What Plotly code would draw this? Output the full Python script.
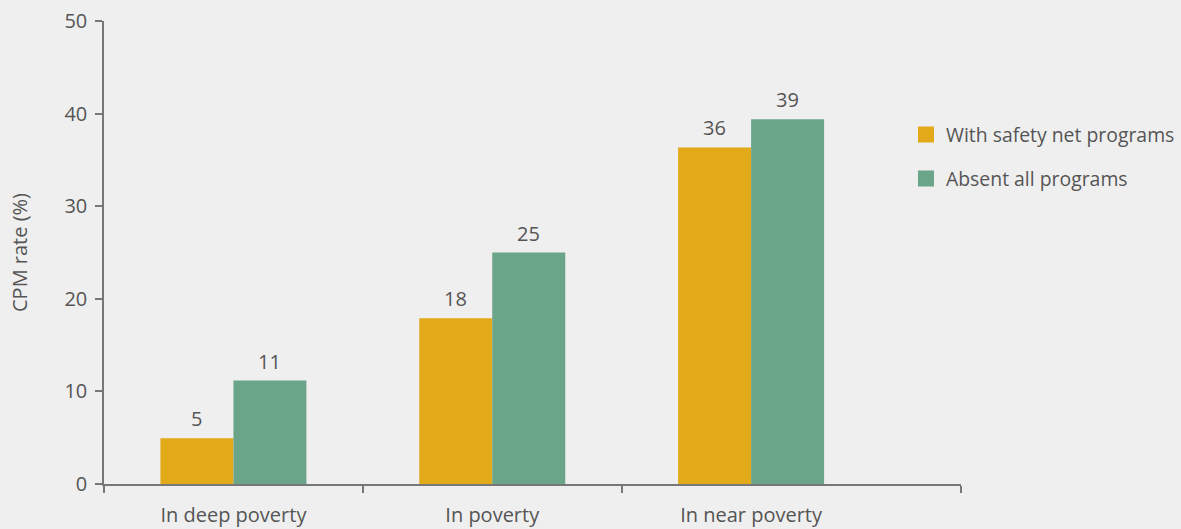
import plotly.graph_objects as go

categories = ["In deep poverty", "In poverty", "In near poverty"]
with_programs = [4.94, 17.9, 36.35]
absent_programs = [11.17, 25.0, 39.4]
with_labels = ["5", "18", "36"]
absent_labels = ["11", "25", "39"]
series_names = ["With safety net programs", "Absent all programs"]
y_ticks = [0, 10, 20, 30, 40, 50]

YELLOW = "#E2AA18"
GREEN = "#6AA589"
BG = "#EFEFEF"
TXT = "#555555"
AX = "#777777"
FONT = "Open Sans"
FS = 20
LFS = 19.4

L, R, T, B = 104, 961, 21, 484
W, H = 1181, 529

xpos = list(range(len(categories)))

fig = go.Figure()
fig.add_bar(x=xpos, y=with_programs, marker=dict(color=YELLOW, line=dict(width=0)),
            showlegend=False, name=series_names[0])
fig.add_bar(x=xpos, y=absent_programs, marker=dict(color=GREEN, line=dict(width=0)),
            showlegend=False, name=series_names[1])

# legend entries
fig.add_scatter(x=[None], y=[None], mode="markers", name=series_names[0],
                marker=dict(symbol="square", size=16, color=YELLOW), legend="legend")
fig.add_scatter(x=[None], y=[None], mode="markers", name=series_names[1],
                marker=dict(symbol="square", size=16, color=GREEN), legend="legend2")

bw = 0.282
for i, (v, t) in enumerate(zip(with_programs, with_labels)):
    fig.add_annotation(x=xpos[i] - bw / 2, y=v, text=t, showarrow=False,
                       yanchor="bottom", yshift=4, font=dict(size=FS, color=TXT, family=FONT))
for i, (v, t) in enumerate(zip(absent_programs, absent_labels)):
    fig.add_annotation(x=xpos[i] + bw / 2, y=v, text=t, showarrow=False,
                       yanchor="bottom", yshift=4, font=dict(size=FS, color=TXT, family=FONT))

xmax = 2.811

fig.update_layout(
    width=W, height=H,
    margin=dict(l=L, r=W - R, t=T, b=H - B, autoexpand=False),
    paper_bgcolor=BG, plot_bgcolor=BG,
    barmode="group", bargap=0.436, bargroupgap=0,
    font=dict(family=FONT, color=TXT, size=FS),
    xaxis=dict(range=[-0.5, xmax], tickvals=xpos, ticktext=categories,
               ticks="", showgrid=False, zeroline=False, automargin=False,
               showline=True, linecolor=AX, linewidth=1.5,
               tickfont=dict(size=FS, color=TXT, family=FONT),
               ticklabelstandoff=12,
               minor=dict(tickvals=[-0.5, 0.5, 1.5, xmax], ticks="outside",
                          ticklen=7, tickcolor=AX, tickwidth=1.5, showgrid=False)),
    yaxis=dict(range=[0, 50], tickvals=y_ticks, ticks="outside", ticklen=7,
               tickcolor=AX, tickwidth=1.5, showgrid=False, zeroline=False,
               showline=True, linecolor=AX, linewidth=1.5, automargin=False,
               tickfont=dict(size=FS, color=TXT, family=FONT),
               ticklabelstandoff=4,
               title=dict(text="CPM rate (%)", font=dict(size=FS, color=TXT, family=FONT),
                          standoff=31)),
    legend=dict(x=906 / W, y=1 - 135 / H, xref="container", yref="container",
                xanchor="left", yanchor="middle", bgcolor="rgba(0,0,0,0)",
                font=dict(size=LFS, color=TXT, family=FONT)),
    legend2=dict(x=906 / W, y=1 - 179 / H, xref="container", yref="container",
                 xanchor="left", yanchor="middle", bgcolor="rgba(0,0,0,0)",
                 font=dict(size=LFS, color=TXT, family=FONT)),
)

fig.write_html("out.html")
